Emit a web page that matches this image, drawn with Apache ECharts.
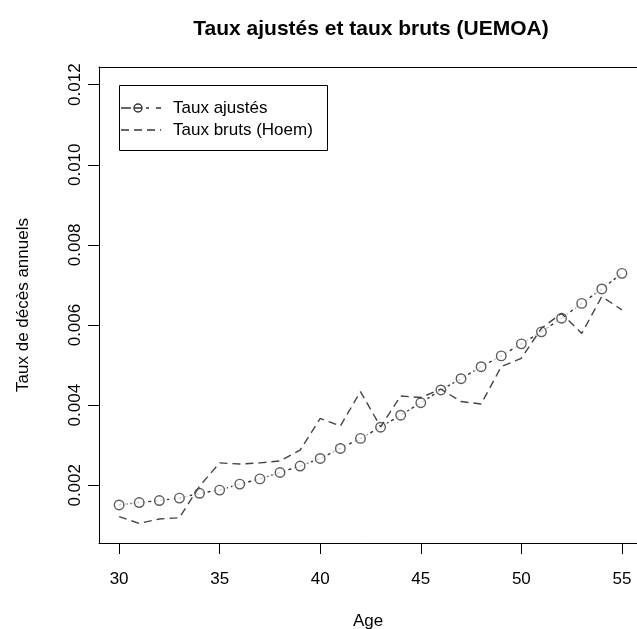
<!DOCTYPE html>
<html>
<head>
<meta charset="utf-8">
<script src="https://cdn.jsdelivr.net/npm/echarts@6/dist/echarts.min.js"></script>
<style>
  html, body { margin: 0; padding: 0; background: #fff; }
  #chart { width: 637px; height: 629px; }
</style>
</head>
<body>
<div id="chart"></div>
<script>
// Age groups (years)
const ages = [30, 31, 32, 33, 34, 35, 36, 37, 38, 39, 40, 41, 42, 43, 44, 45, 46, 47, 48, 49, 50, 51, 52, 53, 54, 55];
// Adjusted annual death rates
const tauxAjustes = [0.00151, 0.00157, 0.00162, 0.00168, 0.00180, 0.00188, 0.00203, 0.00216, 0.00232, 0.00248,
                     0.00267, 0.00292, 0.00317, 0.00345, 0.00375, 0.00406, 0.00438, 0.00466, 0.00496, 0.00523,
                     0.00553, 0.00583, 0.00617, 0.00654, 0.00690, 0.00729];
// Raw annual death rates (Hoem)
const tauxBruts = [0.00122, 0.00105, 0.00116, 0.00119, 0.00198, 0.00256, 0.00253, 0.00256, 0.00261, 0.00288,
                   0.00367, 0.00348, 0.00434, 0.00346, 0.00423, 0.00419, 0.00440, 0.00409, 0.00403, 0.00496,
                   0.00517, 0.00592, 0.00629, 0.00579, 0.00671, 0.00638];
// Axis ticks
const xTicks = [30, 35, 40, 45, 50, 55];
const yTicks = [0.002, 0.004, 0.006, 0.008, 0.010, 0.012];

const seriesNames = ['Taux ajustés', 'Taux bruts (Hoem)'];
const titleText = 'Taux ajustés et taux bruts (UEMOA)';
const xName = 'Age';
const yName = 'Taux de décès annuels';

const FONT = "'Liberation Sans', Arial, sans-serif";
const INK = '#333';

// x range: the plot frame runs past the right edge of the page
const X_MIN = 29, X_MAX = 55.75;

const fittedPairs = ages.map((a, i) => [a, tauxAjustes[i]]);
const rawPairs = ages.map((a, i) => [a, tauxBruts[i]]);

const chart = echarts.init(document.getElementById('chart'), null, { renderer: 'canvas' });

const frameLine = { show: true, onZero: false, lineStyle: { color: '#000', width: 1 } };

chart.setOption({
  animation: false,
  backgroundColor: '#fff',
  textStyle: { fontFamily: FONT },
  grid: { left: 99, top: 67, right: 0, height: 476, show: false, containLabel: false, outerBoundsMode: 'none' },
  xAxis: [
    {
      type: 'value', min: X_MIN, max: X_MAX, position: 'bottom',
      axisLine: frameLine,
      splitLine: { show: false },
      axisTick: { show: true, length: 11, customValues: xTicks, lineStyle: { color: '#000', width: 1 } },
      axisLabel: { customValues: xTicks, fontSize: 17, color: '#000', margin: 28, fontFamily: FONT },
      name: xName, nameLocation: 'middle', nameGap: 70,
      nameTextStyle: { fontSize: 17, color: '#000', fontFamily: FONT }
    },
    {
      // top edge of the plot frame
      type: 'value', min: X_MIN, max: X_MAX, position: 'top',
      axisLine: frameLine,
      splitLine: { show: false }, axisTick: { show: false }, axisLabel: { show: false }
    }
  ],
  yAxis: {
    type: 'value', min: 0.00056, max: 0.01244,
    axisLine: frameLine,
    splitLine: { show: false },
    axisTick: { show: true, length: 11, customValues: yTicks, lineStyle: { color: '#000', width: 1 } },
    axisLabel: {
      customValues: yTicks, fontSize: 17, color: '#000', rotate: 90, margin: 15, fontFamily: FONT,
      formatter: v => v.toFixed(3)
    },
    name: yName, nameLocation: 'middle', nameGap: 67,
    nameTextStyle: { fontSize: 17, color: '#000', fontFamily: FONT }
  },
  series: [
    {
      // connecting dot-dash line of the adjusted rates
      name: seriesNames[0], type: 'line', data: fittedPairs, z: 2,
      symbol: 'none', silent: true,
      lineStyle: { color: INK, width: 1.4, type: [2, 4], cap: 'round' }
    },
    {
      // white gaps around each point (type "b" look)
      type: 'scatter', data: fittedPairs, z: 3, silent: true,
      symbol: 'circle', symbolSize: 16,
      itemStyle: { color: '#fff', borderWidth: 0 }
    },
    {
      // open circles of the adjusted rates
      type: 'scatter', data: fittedPairs, z: 4, silent: true,
      symbol: 'circle', symbolSize: 9.5,
      itemStyle: { color: 'rgba(0,0,0,0)', borderColor: INK, borderWidth: 1.4 }
    },
    {
      name: seriesNames[1], type: 'line', data: rawPairs, z: 5,
      symbol: 'none', silent: true,
      lineStyle: { color: '#444', width: 1.4, type: [8, 5] }
    }
  ],
  graphic: [
    {
      type: 'text', x: 371, y: 29, silent: true,
      style: {
        text: titleText, fill: '#000', align: 'center', verticalAlign: 'middle',
        font: "bold 21px 'Liberation Sans', Arial, sans-serif"
      }
    },
    {
      type: 'rect', shape: { x: 119.5, y: 85.5, width: 208, height: 65 }, silent: true,
      style: { fill: '#fff', stroke: '#000', lineWidth: 1 }
    },
    {
      type: 'line', shape: { x1: 121, y1: 108, x2: 161, y2: 108 }, silent: true,
      style: { stroke: INK, lineWidth: 1.4, lineDash: [10, 3, 8, 4, 3, 7, 5, 10] }
    },
    {
      type: 'circle', shape: { cx: 138, cy: 108, r: 4 }, silent: true,
      style: { fill: 'rgba(0,0,0,0)', stroke: INK, lineWidth: 1.4 }
    },
    {
      type: 'line', shape: { x1: 121, y1: 130, x2: 161, y2: 130 }, silent: true,
      style: { stroke: INK, lineWidth: 1.4, lineDash: [8, 5] }
    },
    {
      type: 'text', x: 173, y: 108, silent: true,
      style: { text: seriesNames[0], fill: '#000', verticalAlign: 'middle', font: "17px 'Liberation Sans', Arial, sans-serif" }
    },
    {
      type: 'text', x: 173, y: 130, silent: true,
      style: { text: seriesNames[1], fill: '#000', verticalAlign: 'middle', font: "17px 'Liberation Sans', Arial, sans-serif" }
    }
  ]
});
</script>
</body>
</html>
